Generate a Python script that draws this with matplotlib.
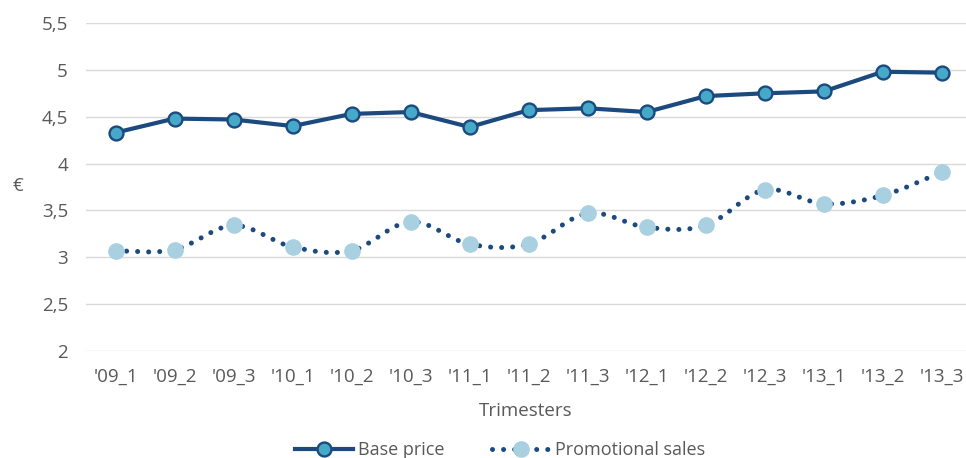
import numpy as np
import matplotlib.pyplot as plt
from matplotlib.path import Path
from matplotlib.patches import PathPatch
from matplotlib.lines import Line2D

plt.rcParams['font.family'] = ['Open Sans', 'DejaVu Sans']

trimesters = ["'09_1", "'09_2", "'09_3", "'10_1", "'10_2", "'10_3", "'11_1", "'11_2",
              "'11_3", "'12_1", "'12_2", "'12_3", "'13_1", "'13_2", "'13_3"]
base_price = [4.33, 4.48, 4.47, 4.40, 4.53, 4.55, 4.39, 4.57,
              4.59, 4.55, 4.72, 4.75, 4.77, 4.98, 4.97]
promo_sales = [3.07, 3.08, 3.34, 3.11, 3.07, 3.38, 3.14, 3.14,
               3.47, 3.32, 3.34, 3.72, 3.57, 3.66, 3.91]

NAVY = "#1c4a7e"
TEAL = "#45a9c7"
LIGHT = "#a9d0e0"
GREY = "#595959"


def smooth_path(xs, ys, t=1 / 6):
    # excel-like smoothed line: cubic bezier through the points
    pts = np.column_stack([xs, ys]).astype(float)
    verts = [pts[0]]
    codes = [Path.MOVETO]
    n = len(pts)
    for i in range(n - 1):
        p0 = pts[max(i - 1, 0)]
        p1 = pts[i]
        p2 = pts[i + 1]
        p3 = pts[min(i + 2, n - 1)]
        c1 = p1 + (p2 - p0) * t
        c2 = p2 - (p3 - p1) * t
        verts += [c1, c2, p2]
        codes += [Path.CURVE4] * 3
    return Path(verts, codes)


fig = plt.figure(figsize=(9.66, 4.58), dpi=100)
ax = fig.add_axes([86 / 966, 1 - 351 / 458, 880 / 966, 328 / 458])

x = np.arange(len(trimesters))

ax.plot(x, base_price, color=NAVY, lw=3, marker="o", ms=10,
        mfc=TEAL, mec=NAVY, mew=1.7, zorder=4, solid_joinstyle="round")

dots = (0, (0.01, 2.2))
patch = PathPatch(smooth_path(x, promo_sales), fill=False, edgecolor=NAVY,
                  lw=3.6, linestyle=dots, capstyle="round", zorder=3)
ax.add_patch(patch)
ax.plot(x, promo_sales, ls="none", marker="o", ms=11, mfc=LIGHT, mec=LIGHT,
        zorder=4)

ax.set_xlim(-0.5, 14.41)
ax.set_ylim(2, 5.5)
ax.set_yticks(np.arange(2, 5.51, 0.5))
ax.set_yticklabels([f"{v:g}".replace(".", ",") for v in np.arange(2, 5.51, 0.5)])
ax.set_xticks(x)
ax.set_xticklabels(trimesters)
ax.tick_params(axis="both", length=0, colors=GREY, labelsize=13.5)
ax.tick_params(axis="x", pad=12)
ax.tick_params(axis="y", pad=13)
ax.grid(axis="y", color="#d9d9d9", lw=1)
ax.set_axisbelow(True)
for s in ax.spines.values():
    s.set_visible(False)

ax.set_xlabel("Trimesters", color=GREY, fontsize=13.5, labelpad=12)
fig.text(18 / 966, 1 - 186 / 458, "€", color=GREY, fontsize=13.5,
         ha="center", va="center")

h1 = Line2D([], [], color=NAVY, lw=3, marker="o", ms=10, mfc=TEAL,
            mec=NAVY, mew=1.7)
h2 = Line2D([], [], color=NAVY, lw=3.6, ls=dots, dash_capstyle="round",
            marker="o", ms=11, mfc=LIGHT, mec=LIGHT)
fig.legend([h1, h2], ["Base price", "Promotional sales"], loc="center",
           bbox_to_anchor=(500 / 966, 1 - 450 / 458), ncol=2, frameon=False,
           fontsize=13, labelcolor=GREY, handlelength=3.2, handletextpad=0.3,
           columnspacing=2.6)

fig.savefig("out.png", dpi=100)
